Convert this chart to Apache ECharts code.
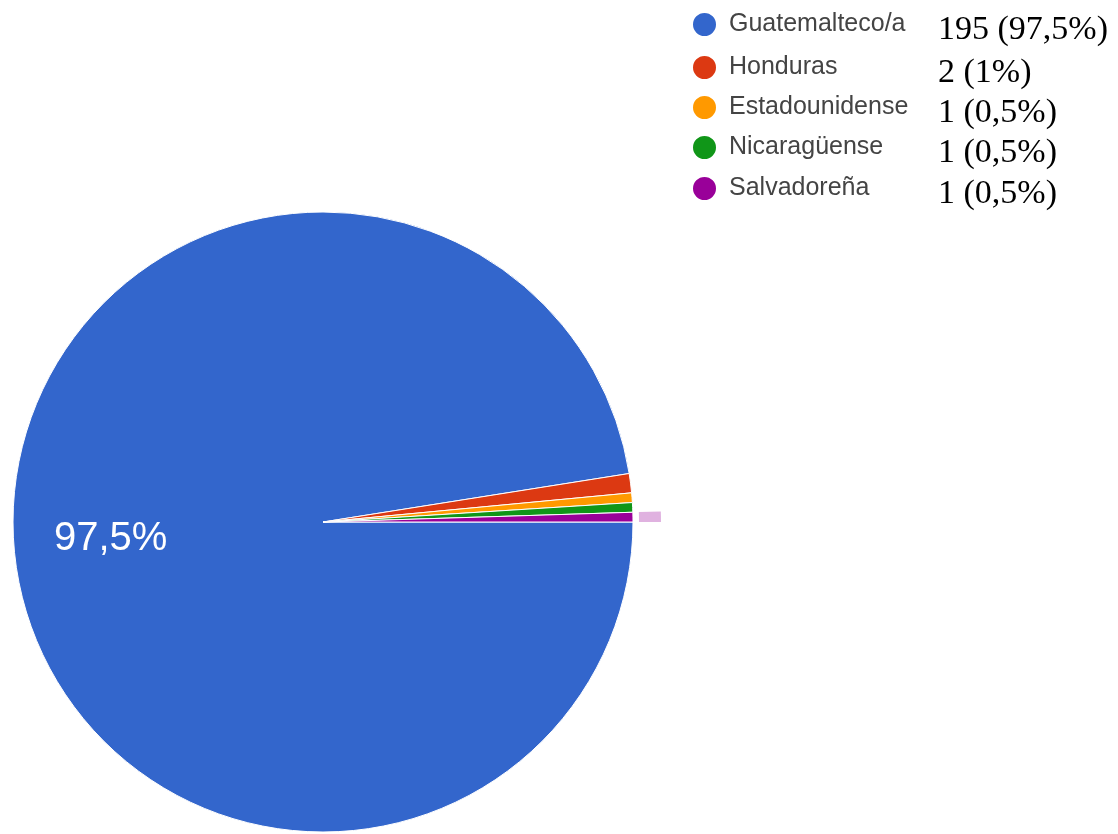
<!DOCTYPE html>
<html>
<head>
<meta charset="utf-8">
<script src="https://cdn.jsdelivr.net/npm/echarts@6/dist/echarts.min.js"></script>
<style>
  html, body { margin: 0; padding: 0; background: #ffffff; }
  #chart { width: 1118px; height: 834px; }
</style>
</head>
<body>
<div id="chart"></div>
<script>
// ---- data ----
const categories = ['Guatemalteco/a', 'Honduras', 'Estadounidense', 'Nicaragüense', 'Salvadoreña'];
const counts = [195, 2, 1, 1, 1];
const colors = ['#3366cc', '#dc3912', '#ff9900', '#109618', '#990099'];
const hoveredIndex = 4; // slice showing the hover ring in the reference

// ---- layout (styles / positions only) ----
const legendRowCenters = [24, 67, 107, 147, 188];
const pieCenter = [323, 522];
const pieRadius = 310;

const total = counts.reduce((a, b) => a + b, 0);
function pctText(v) {
  const p = Number((v / total * 100).toFixed(1));
  return String(p).replace('.', ',') + '%';
}

const data = categories.map((name, i) => ({
  name: name,
  value: counts[i],
  itemStyle: { color: colors[i] }
}));

const legends = categories.map((name, i) => ({
  data: [{ name: name, icon: 'circle' }],
  orient: 'vertical',
  left: 691,
  top: legendRowCenters[i] - 13,
  padding: 0,
  itemWidth: 25,
  itemHeight: 25,
  selectedMode: false,
  formatter: function (n) {
    const idx = categories.indexOf(n);
    return '{n|' + n + '}{v|' + counts[idx] + ' (' + pctText(counts[idx]) + ')}';
  },
  textStyle: {
    rich: {
      n: {
        fontFamily: 'Liberation Sans, Arial, sans-serif',
        fontSize: 25,
        color: '#444444',
        width: 209,
        padding: [0, 0, 0, 7]
      },
      v: {
        fontFamily: 'Liberation Serif, Times New Roman, serif',
        fontSize: 34,
        color: '#000000',
        padding: [12, 0, 0, 0]
      }
    }
  }
}));

const chart = echarts.init(document.getElementById('chart'), null, { renderer: 'canvas' });
chart.setOption({
  animation: false,
  backgroundColor: '#ffffff',
  legend: legends,
  series: [
    {
      type: 'pie',
      center: pieCenter,
      radius: pieRadius,
      startAngle: 0,
      clockwise: true,
      avoidLabelOverlap: false,
      silent: true,
      label: { show: false },
      labelLine: { show: false },
      itemStyle: { borderColor: '#ffffff', borderWidth: 1 },
      data: data
    },
    {
      // label layer: places the percentage text at ~0.68 of the radius
      type: 'pie',
      center: pieCenter,
      radius: [110, pieRadius],
      startAngle: 0,
      clockwise: true,
      silent: true,
      avoidLabelOverlap: false,
      labelLine: { show: false },
      itemStyle: { color: 'rgba(0,0,0,0)' },
      label: {
        show: true,
        position: 'inside',
        fontFamily: 'Liberation Sans, Arial, sans-serif',
        fontSize: 40,
        color: '#ffffff',
        padding: [6, 0, 0, 0],
        formatter: function (p) {
          return (p.value / total) >= 0.05 ? pctText(p.value) : '';
        }
      },
      data: categories.map((name, i) => ({ name: name, value: counts[i] }))
    },
    {
      // hover ring around the highlighted slice
      type: 'pie',
      center: pieCenter,
      radius: [316, 338],
      startAngle: 0,
      clockwise: true,
      silent: true,
      label: { show: false },
      labelLine: { show: false },
      data: categories.map((name, i) => ({
        name: name,
        value: counts[i],
        itemStyle: { color: i === hoveredIndex ? 'rgba(153,0,153,0.3)' : 'rgba(0,0,0,0)' }
      }))
    }
  ]
});
</script>
</body>
</html>
